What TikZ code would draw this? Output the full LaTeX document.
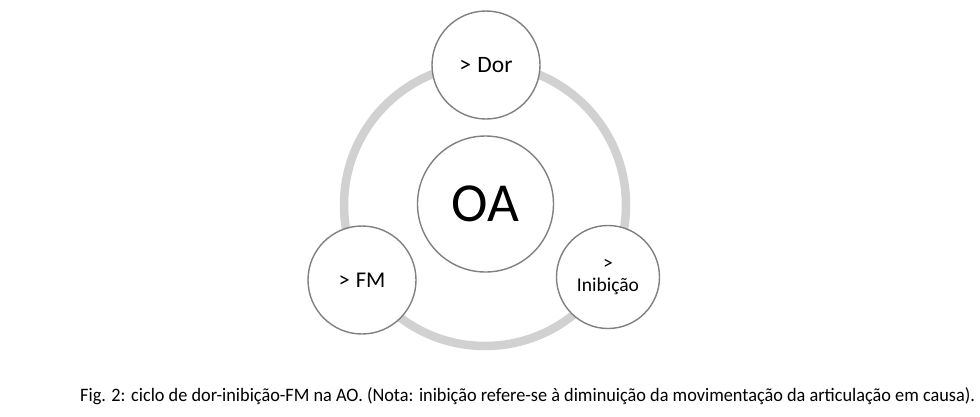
\documentclass[tikz,border=0pt]{standalone}
\usepackage{fontspec}
\setmainfont{Carlito}
\begin{document}
\begin{tikzpicture}[x=1pt,y=-1pt,
  bub/.style={circle, draw=black!50, line width=1.4pt, fill=white, inner sep=0pt, align=center},
  ring/.style={draw=black!18, line width=8.5pt}]
\useasboundingbox[fill=white] (0,0) rectangle (980,416);
\coordinate (rc) at (485,205);
\draw[ring] (rc) circle[radius=141];
\node[bub, minimum size=136, font=\fontsize{55}{55}\selectfont] (oa) at (485.5,204) {OA};
\node[bub, minimum size=108, font=\fontsize{23.5}{26}\selectfont] (dor) at (486,65) {>\hspace{1pt} Dor};
\node[bub, minimum size=108, font=\fontsize{22.5}{26}\selectfont] (fm) at (362,280) {>\hspace{1pt} FM};
\node[bub, minimum size=103, font=\fontsize{19.5}{23}\selectfont] (ini) at (608,277) {>\\[-1pt] Inibição};
\node[anchor=base west, inner sep=0pt] (cap) at (80,401.5) {\resizebox{895pt}{\height}{\fontsize{19}{20}\selectfont Fig. 2: ciclo de dor-inibição-FM na AO. (Nota: inibição refere-se à diminuição da movimentação da articulação em causa).}};
\end{tikzpicture}
\end{document}
